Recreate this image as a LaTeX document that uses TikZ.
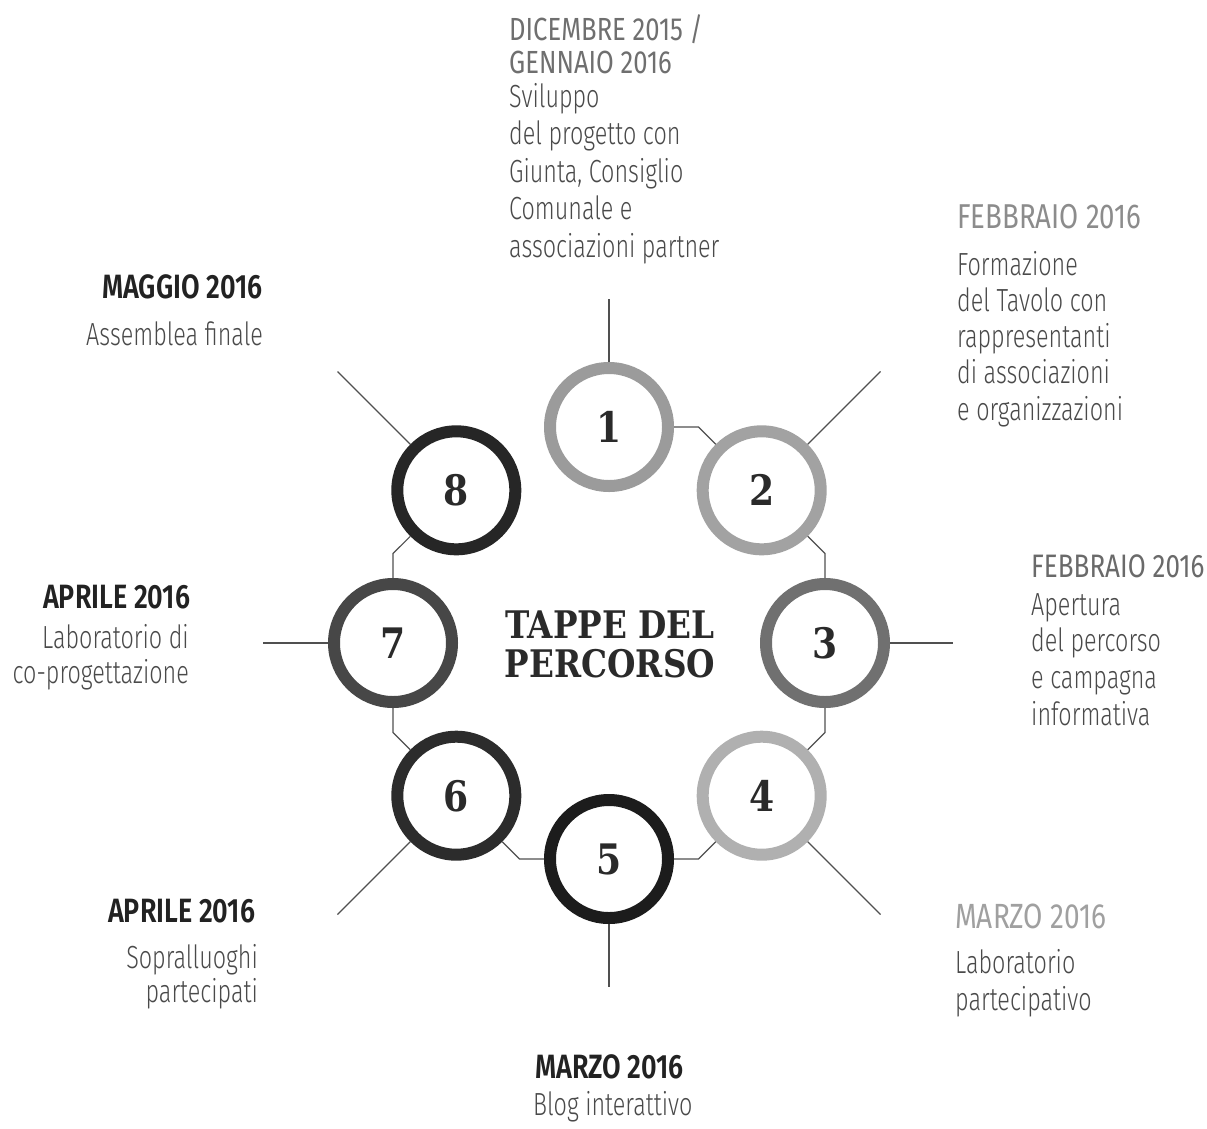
\documentclass[tikz,border=0pt]{standalone}
\usepackage{fontspec}
\newfontfamily\bodyf{Fira Sans Light}[FakeStretch=0.73]
\newfontfamily\headbf{Fira Sans SemiBold}[FakeStretch=0.8]
\newfontfamily\headrf{Fira Sans}[FakeStretch=0.8]
\newfontfamily\slabf{DejaVu Serif}[FakeStretch=0.86]
\definecolor{numc}{HTML}{2A2A2A}
\definecolor{linec}{HTML}{505050}
\definecolor{bodyc}{HTML}{4A4A4A}
\definecolor{rA}{HTML}{9B9B9B}
\definecolor{rB}{HTML}{A2A2A2}
\definecolor{rC}{HTML}{707070}
\definecolor{rD}{HTML}{B0B0B0}
\definecolor{rE}{HTML}{1C1C1C}
\definecolor{rF}{HTML}{2C2C2C}
\definecolor{rG}{HTML}{474747}
\definecolor{rH}{HTML}{262626}
\definecolor{hdark}{HTML}{222222}
\definecolor{hg1}{HTML}{6F6F6F}
\definecolor{hg2}{HTML}{8C8C8C}
\definecolor{hg3}{HTML}{6A6A6A}
\definecolor{hg4}{HTML}{A0A0A0}
\begin{document}
\begin{tikzpicture}[x=1pt,y=-1pt,
  ring/.style={circle, line width=12pt, minimum size=118pt, inner sep=0pt, outer sep=6pt,
    font=\slabf\bfseries\fontsize{42}{42}\selectfont, text=numc},
  link/.style={draw=linec, line width=1.1pt},
  spoke/.style={draw=linec, line width=1.1pt},
  hd/.style={inner sep=0pt, font=\headbf\fontsize{33.7}{34}\selectfont, text=hdark},
  hdl/.style={inner sep=0pt, font=\headrf\fontsize{32}{29}\selectfont},
  bd/.style={inner sep=0pt, font=\bodyf\fontsize{32}{32}\selectfont, text=bodyc},
  title/.style={inner sep=0pt, font=\slabf\bfseries\fontsize{38}{38}\selectfont, text=numc}]
\useasboundingbox[fill=white] (0,0) rectangle (1207,1128);

% circles
\node[ring, draw=rA] (n1) at (609,427) {1};
\node[ring, draw=rB] (n2) at (761.7,490.3) {2};
\node[ring, draw=rC] (n3) at (825,643) {3};
\node[ring, draw=rD] (n4) at (761.7,795.7) {4};
\node[ring, draw=rE] (n5) at (609,859) {5};
\node[ring, draw=rF] (n6) at (456.3,795.7) {6};
\node[ring, draw=rG] (n7) at (393,643) {7};
\node[ring, draw=rH] (n8) at (456.3,490.3) {8};

% bend points
\coordinate (p12) at (698.5,427);
\coordinate (p23) at (825,553.5);
\coordinate (p34) at (825,732.5);
\coordinate (p45) at (698.5,859);
\coordinate (p56) at (519.5,859);
\coordinate (p67) at (393,732.5);
\coordinate (p78) at (393,553.5);

\draw[link] (n1) -- (p12) -- (n2);
\draw[link] (n2) -- (p23) -- (n3);
\draw[link] (n3) -- (p34) -- (n4);
\draw[link] (n4) -- (p45) -- (n5);
\draw[link] (n5) -- (p56) -- (n6);
\draw[link] (n6) -- (p67) -- (n7);
\draw[link] (n7) -- (p78) -- (n8);

% spoke ends
\coordinate (s1) at (609,299);
\coordinate (s2) at (880.5,371.5);
\coordinate (s3) at (953,643);
\coordinate (s4) at (880.5,914.5);
\coordinate (s5) at (609,987);
\coordinate (s6) at (337.5,914.5);
\coordinate (s7) at (263,643);
\coordinate (s8) at (337.5,371.5);
\foreach \k in {1,...,8} \draw[spoke] (n\k) -- (s\k);

% title
\node[title, anchor=base] (t1) at (610,638) {TAPPE DEL};
\node[title, anchor=base] (t2) at (610,677) {PERCORSO};

% block 1
\node[hdl, text=hg1, anchor=base west] (h1a) at (509,40) {DICEMBRE 2015 /};
\node[hdl, text=hg1, anchor=base west] (h1b) at (509,73) {GENNAIO 2016};
\foreach \t [count=\i from 0] in {Sviluppo, del progetto con, {Giunta, Consiglio}, Comunale e, associazioni partner}
  \node[bd, anchor=base west] (b1-\i) at (509,{107+37.5*\i}) {\t};

% block 2
\node[hdl, text=hg2, anchor=base west, font=\headrf\fontsize{34.5}{35}\selectfont] (h2) at (957,228) {FEBBRAIO 2016};
\foreach \t [count=\i from 0] in {Formazione, del Tavolo con, rappresentanti, di associazioni, e organizzazioni}
  \node[bd, anchor=base west] (b2-\i) at (957,{275+36.3*\i}) {\t};

% block 3
\node[hdl, text=hg3, anchor=base west, font=\headrf\fontsize{32.5}{33}\selectfont] (h3) at (1031,577) {FEBBRAIO 2016};
\foreach \t [count=\i from 0] in {Apertura, del percorso, e campagna, informativa}
  \node[bd, anchor=base west] (b3-\i) at (1031,{615+36.7*\i}) {\t};

% block 4
\node[hdl, text=hg4, anchor=base west, font=\headrf\fontsize{35}{35}\selectfont] (h4) at (955,928) {MARZO 2016};
\foreach \t [count=\i from 0] in {Laboratorio, partecipativo}
  \node[bd, anchor=base west] (b4-\i) at (955,{973+37*\i}) {\t};

% block 5
\node[hd, anchor=base west] (h5) at (535,1078) {MARZO 2016};
\node[bd, anchor=base west] (b5-0) at (533,1115) {Blog interattivo};

% block 6
\node[hd, anchor=base west] (h6) at (108,922) {APRILE 2016};
\foreach \t [count=\i from 0] in {Sopralluoghi, partecipati}
  \node[bd, anchor=base east] (b6-\i) at (258,{968+34*\i}) {\t};

% block 7
\node[hd, anchor=base west] (h7) at (43,608) {APRILE 2016};
\foreach \t [count=\i from 0] in {Laboratorio di, co-progettazione}
  \node[bd, anchor=base east] (b7-\i) at (189,{648+35*\i}) {\t};

% block 8
\node[hd, anchor=base west] (h8) at (102,298) {MAGGIO 2016};
\node[bd, anchor=base east] (b8-0) at (263,345) {Assemblea finale};
\end{tikzpicture}
\end{document}
